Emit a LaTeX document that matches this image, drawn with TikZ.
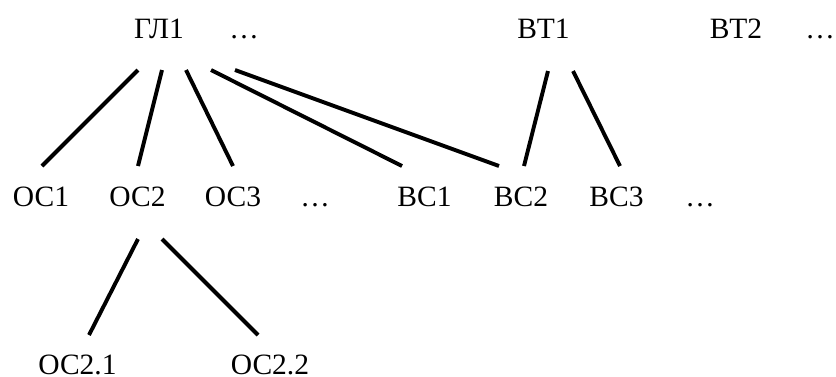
\documentclass[tikz,border=0pt]{standalone}
\usepackage{fontspec}
\setmainfont{Liberation Serif}
\begin{document}
\begin{tikzpicture}[x=1pt,y=-1pt,
  lbl/.style={anchor=base,inner sep=0pt,font=\fontsize{29.5}{32}\selectfont},
  edge/.style={line width=3.9pt}]
\useasboundingbox (0,0) rectangle (836,376);
% top level
\node[lbl] (gl1) at (159,38) {ГЛ1};
\node[lbl] (dt1) at (244,38) {…};
\node[lbl] (vt1) at (543.5,38) {ВТ1};
\node[lbl] (vt2) at (736,38) {ВТ2};
\node[lbl] (dt2) at (820,38) {…};
% middle level
\node[lbl] (os1) at (41,206) {ОС1};
\node[lbl] (os2) at (137.5,206) {ОС2};
\node[lbl] (os3) at (233,206) {ОС3};
\node[lbl] (dm1) at (315,206) {…};
\node[lbl] (vs1) at (424.5,206) {ВС1};
\node[lbl] (vs2) at (521,206) {ВС2};
\node[lbl] (vs3) at (616.5,206) {ВС3};
\node[lbl] (dm2) at (700,206) {…};
% bottom level
\node[lbl] (os21) at (77.5,374) {ОС2.1};
\node[lbl] (os22) at (270,374) {ОС2.2};
% connector end points
\coordinate (gA) at (138,70);  \coordinate (gB) at (162,70);
\coordinate (gC) at (186,70);  \coordinate (gD) at (211,70);
\coordinate (gE) at (235,70);
\coordinate (tA) at (548,71);  \coordinate (tB) at (573,71);
\coordinate (o1) at (42,166);  \coordinate (o2) at (138,166);
\coordinate (o3) at (233,166); \coordinate (v1) at (402,166);
\coordinate (v2a) at (499,166); \coordinate (v2b) at (524,166);
\coordinate (v3) at (620,166);
\coordinate (sA) at (138,239); \coordinate (sB) at (162,239);
\coordinate (b1) at (89,335);  \coordinate (b2) at (258,335);
% connectors
\draw[edge] (gA) -- (o1);
\draw[edge] (gB) -- (o2);
\draw[edge] (gC) -- (o3);
\draw[edge] (gD) -- (v1);
\draw[edge] (gE) -- (v2a);
\draw[edge] (tA) -- (v2b);
\draw[edge] (tB) -- (v3);
\draw[edge] (sA) -- (b1);
\draw[edge] (sB) -- (b2);
\end{tikzpicture}
\end{document}
